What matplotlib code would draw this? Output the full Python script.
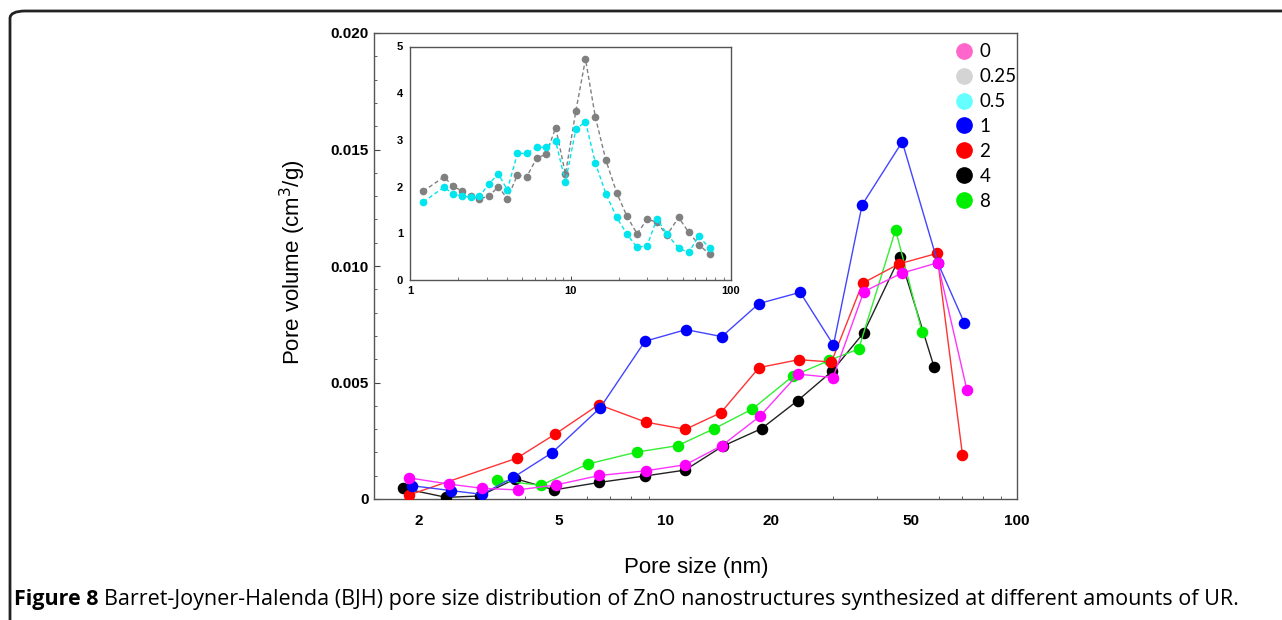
import matplotlib
matplotlib.use("Agg")
import matplotlib.pyplot as plt
from matplotlib.lines import Line2D
from matplotlib.patches import FancyBboxPatch
from matplotlib.ticker import LogLocator, FixedLocator, MultipleLocator, NullFormatter

# ---- main plot data (pore size nm, pore volume cm3/g) ----
x_0 = [1.87, 2.43, 3.02, 3.81, 4.89, 6.50, 8.81, 11.42, 14.5, 18.6, 23.9, 30.0, 36.7, 47.0, 59.5, 72.1]
y_0 = [0.00091, 0.00064, 0.00046, 0.00039, 0.00060, 0.00101, 0.00121, 0.00147, 0.00229, 0.00355,
       0.00536, 0.00521, 0.00890, 0.00969, 0.01014, 0.00467]

x_1 = [1.91, 2.47, 3.02, 3.71, 4.78, 6.54, 8.77, 11.47, 14.5, 18.5, 24.2, 30.1, 36.3, 47.2, 59.6, 70.8]
y_1 = [0.00057, 0.00036, 0.00020, 0.00093, 0.00199, 0.00391, 0.00677, 0.00727, 0.00697, 0.00839,
       0.00887, 0.00661, 0.01262, 0.01533, 0.01013, 0.00757]

x_2 = [1.87, 3.79, 4.88, 6.48, 8.82, 11.42, 14.4, 18.5, 24.0, 29.7, 36.4, 46.2, 59.2, 70.0]
y_2 = [0.00017, 0.00175, 0.00279, 0.00405, 0.00330, 0.00299, 0.00370, 0.00564, 0.00598, 0.00588,
       0.00926, 0.01009, 0.01054, 0.00189]

x_4 = [1.80, 2.39, 2.98, 3.76, 4.84, 6.49, 8.79, 11.40, 14.6, 18.8, 23.8, 29.8, 36.7, 46.5, 58.1]
y_4 = [0.00046, 0.00007, 0.00013, 0.00087, 0.00039, 0.00071, 0.00099, 0.00124, 0.00227, 0.00302,
       0.00422, 0.00548, 0.00714, 0.01040, 0.00568]

x_8 = [3.33, 4.44, 6.03, 8.30, 10.86, 13.8, 17.7, 23.1, 29.3, 35.5, 45.2, 53.7]
y_8 = [0.00080, 0.00059, 0.00150, 0.00201, 0.00229, 0.00302, 0.00386, 0.00528, 0.00595, 0.00644,
       0.01155, 0.00718]

# ---- inset data ----
x_in = [1.21, 1.63, 1.85, 2.10, 2.39, 2.71, 3.10, 3.55, 4.04, 4.67, 5.34, 6.15, 7.03, 8.09, 9.30,
        10.8, 12.4, 14.3, 16.6, 19.4, 22.5, 26.0, 30.0, 34.5, 39.8, 47.2, 54.5, 63.0, 73.5]
y_025 = [1.90, 2.21, 2.01, 1.91, 1.79, 1.74, 1.79, 2.00, 1.74, 2.25, 2.21, 2.61, 2.69, 3.26, 2.27,
         3.62, 4.73, 3.48, 2.57, 1.87, 1.36, 0.99, 1.30, 1.24, 0.96, 1.34, 1.02, 0.76, 0.55]
y_05 = [1.67, 1.99, 1.84, 1.80, 1.77, 1.79, 2.06, 2.27, 1.93, 2.71, 2.71, 2.84, 2.84, 2.97, 2.10,
        3.23, 3.39, 2.50, 1.85, 1.34, 0.98, 0.70, 0.73, 1.31, 0.99, 0.68, 0.59, 0.94, 0.68]

legend_labels = ["0", "0.25", "0.5", "1", "2", "4", "8"]
legend_colors = ["#ff66cc", "#d4d4d4", "#66ffff", "#0000ff", "#ff0000", "#000000", "#00ee00"]

tick_font = dict(family="Liberation Sans", weight="bold")

fig = plt.figure(figsize=(12.82, 6.2), dpi=100)

# outer frame, open on right and bottom
frame = FancyBboxPatch((10 / 1282, -0.2), 1.3, 1.2 - 11 / 620,
                       boxstyle="round,pad=0,rounding_size=0.012",
                       transform=fig.transFigure, fill=False, edgecolor="#222222",
                       linewidth=2, clip_on=False)
fig.patches.append(frame)

ax = fig.add_axes([374 / 1282, 1 - 499 / 620, (1017 - 374) / 1282, (499 - 33) / 620])
ms = 7.3
ax.plot(x_0, y_0, "-o", color="#ff33ff", lw=1, ms=ms, mfc="#ff00ff", mec="#ff00ff", zorder=4)
ax.plot(x_4, y_4, "-o", color="#222222", lw=1, ms=ms, mfc="#000000", mec="#000000", zorder=3)
ax.plot(x_8, y_8, "-o", color="#33ee33", lw=1, ms=ms, mfc="#00ee00", mec="#00ee00", zorder=3)
ax.plot(x_2, y_2, "-o", color="#ff3333", lw=1, ms=ms, mfc="#ff0000", mec="#ff0000", zorder=3)
ax.plot(x_1, y_1, "-o", color="#4444ff", lw=1, ms=ms, mfc="#0000ff", mec="#0000ff", zorder=3)

ax.set_xscale("log")
ax.set_xlim(1.49, 100)
ax.set_ylim(0, 0.020)
ax.xaxis.set_major_locator(FixedLocator([2, 5, 10, 20, 50, 100]))
ax.xaxis.set_minor_locator(LogLocator(base=10, subs=range(1, 10)))
ax.xaxis.set_minor_formatter(NullFormatter())
ax.set_xticklabels(["2", "5", "10", "20", "50", "100"])
ax.yaxis.set_major_locator(MultipleLocator(0.005))
ax.yaxis.set_minor_locator(MultipleLocator(0.001))
ax.set_yticks([0, 0.005, 0.010, 0.015, 0.020])
ax.set_yticklabels(["0", "0.005", "0.010", "0.015", "0.020"])
ax.tick_params(which="both", direction="in", color="#444444")
ax.tick_params(which="major", length=4, width=0.8)
ax.tick_params(which="minor", length=2.5, width=0.6)
ax.tick_params(axis="x", which="major", length=0, pad=11)
ax.tick_params(axis="y", which="major", pad=4)
for lab in ax.get_xticklabels() + ax.get_yticklabels():
    lab.set_fontproperties(tick_font)
    lab.set_fontsize(11)
for sp in ax.spines.values():
    sp.set_color("#555555")
    sp.set_linewidth(1)

fig.text(696 / 1282, 1 - 567 / 620, "Pore size (nm)", ha="center", va="center",
         family="Liberation Sans", fontsize=16)
fig.text(293 / 1282, 1 - 262 / 620, "Pore volume (cm$^3$/g)", ha="center", va="center",
         rotation=90, family="Liberation Sans", fontsize=16)

handles = [Line2D([], [], ls="none", marker="o", ms=11, mfc=c, mec=c) for c in legend_colors]
leg = ax.legend(handles, legend_labels, loc="upper left", bbox_to_anchor=(943 / 1282, 1 - 34 / 620),
                bbox_transform=fig.transFigure, frameon=False, handletextpad=0.25,
                labelspacing=0.42, handlelength=1.2, borderpad=0,
                prop=dict(family="Lato", size=13.5))

# ---- inset ----
axi = fig.add_axes([410 / 1282, 1 - 280 / 620, (731 - 410) / 1282, (280 - 46.5) / 620])
axi.plot(x_in, y_025, "--o", color="#808080", lw=1, ms=4.5, dashes=(3, 2))
axi.plot(x_in, y_05, "--o", color="#00e5ee", lw=1, ms=4.5, dashes=(3, 2))
axi.set_xscale("log")
axi.set_xlim(1, 100)
axi.set_ylim(0, 5)
axi.xaxis.set_major_locator(FixedLocator([1, 10, 100]))
axi.xaxis.set_minor_locator(LogLocator(base=10, subs=range(2, 10)))
axi.xaxis.set_minor_formatter(NullFormatter())
axi.set_xticklabels(["1", "10", "100"])
axi.set_yticks([0, 1, 2, 3, 4, 5])
axi.set_yticklabels(["0", "1", "2", "3", "4", "5"])
axi.tick_params(which="both", direction="in", color="#444444")
axi.tick_params(which="major", length=3, width=0.7)
axi.tick_params(which="minor", length=2, width=0.5)
axi.tick_params(axis="y", which="major", length=0, pad=5)
axi.tick_params(axis="x", which="major", pad=4)
for lab in axi.get_xticklabels() + axi.get_yticklabels():
    lab.set_fontproperties(tick_font)
    lab.set_fontsize(8)
for sp in axi.spines.values():
    sp.set_color("#555555")
    sp.set_linewidth(1)

# ---- caption ----
r = fig.canvas.get_renderer()
t1 = fig.text(14 / 1282, 1 - 599 / 620, "Figure 8", ha="left", va="center",
              family="Open Sans", weight="bold", fontsize=15.5)
bb = t1.get_window_extent(renderer=r)
fig.text((bb.x1 + 5) / 1282, 1 - 599 / 620,
         "Barret-Joyner-Halenda (BJH) pore size distribution of ZnO nanostructures synthesized at different amounts of UR.",
         ha="left", va="center", family="Open Sans", fontsize=15.5)

fig.savefig("out.png", dpi=100)
